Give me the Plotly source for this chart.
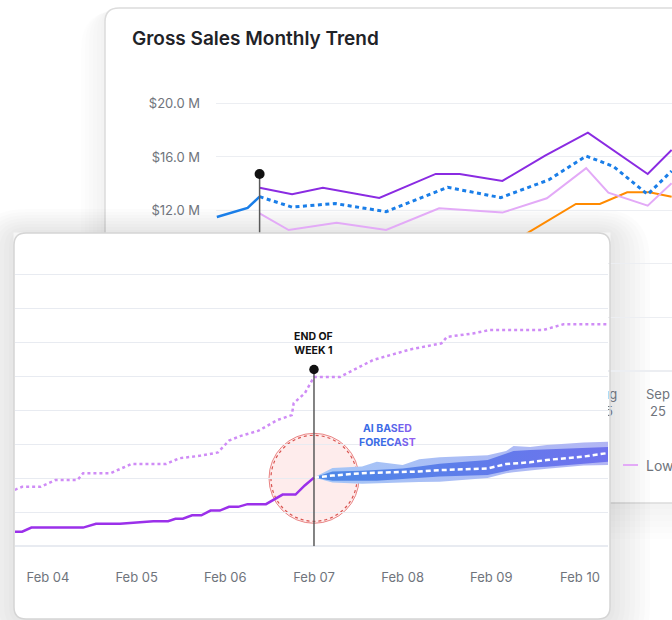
import plotly.graph_objects as go

W, H = 672, 620
FONT = "Inter, Roboto, 'Noto Sans', sans-serif"
GRAY_TXT = "#6f747c"

# ---------------- Background chart: Gross Sales Monthly Trend ($M) ----------------
bg_actual_dates = ["2024-12-17", "2025-01-04", "2025-01-11"]
bg_actual_vals = [11.51, 12.19, 13.03]

bg_upper_dates = ["2025-01-11", "2025-01-30", "2025-02-17", "2025-03-22", "2025-04-24", "2025-05-08",
                  "2025-06-02", "2025-06-27", "2025-07-22", "2025-08-03", "2025-08-26", "2025-09-09"]
bg_upper_vals = [13.70, 13.21, 13.70, 12.93, 14.73, 14.73, 14.21, 16.10, 17.82, 16.77, 14.73, 16.52]

bg_fc_dates = ["2025-01-11", "2025-01-30", "2025-02-24", "2025-03-26", "2025-05-01", "2025-06-01",
               "2025-06-29", "2025-07-21", "2025-08-06", "2025-08-26", "2025-09-09"]
bg_fc_vals = [13.03, 12.25, 12.52, 11.91, 13.73, 12.96, 14.28, 16.07, 15.29, 13.20, 14.95]

bg_lower_dates = ["2025-01-11", "2025-01-28", "2025-02-25", "2025-03-26", "2025-04-26", "2025-06-02",
                  "2025-06-28", "2025-07-21", "2025-08-03", "2025-08-26", "2025-09-09"]
bg_lower_vals = [11.79, 10.54, 11.09, 10.54, 12.16, 11.84, 12.91, 15.16, 13.33, 12.36, 14.03]

bg_target_dates = ["2025-04-26", "2025-06-18", "2025-07-15", "2025-07-29", "2025-08-14", "2025-08-27", "2025-09-09"]
bg_target_vals = [6.06, 10.42, 12.49, 12.49, 13.36, 13.36, 13.03]

bg_marker_date = "2025-01-11"
bg_marker_top = 14.73
bg_yticks = [0, 4, 8, 12, 16, 20]
bg_yticklabels = ["$0.0 M", "$4.0 M", "$8.0 M", "$12.0 M", "$16.0 M", "$20.0 M"]

# ---------------- Foreground chart: daily cumulative with forecast ----------------
actual_time = ["2025-02-03 15:00", "2025-02-03 17:00", "2025-02-03 19:30", "2025-02-04 09:30", "2025-02-04 13:00",
               "2025-02-04 19:30", "2025-02-05 04:30", "2025-02-05 08:30", "2025-02-05 10:30", "2025-02-05 12:30",
               "2025-02-05 15:00", "2025-02-05 17:30", "2025-02-05 20:00", "2025-02-05 22:30", "2025-02-06 01:00",
               "2025-02-06 03:30", "2025-02-06 06:00", "2025-02-06 11:00", "2025-02-06 15:30", "2025-02-06 19:00",
               "2025-02-06 21:30", "2025-02-07 00:00"]
actual_val = [4.3, 4.3, 5.5, 5.5, 6.6, 6.6, 7.4, 7.4, 8.1, 8.1, 9.1, 9.1, 10.5, 10.5, 11.6, 11.6,
              12.4, 12.4, 15.2, 15.2, 17.9, 20.2]

ly_time = ["2025-02-03 15:00", "2025-02-03 17:00", "2025-02-03 22:00", "2025-02-04 02:00", "2025-02-04 08:00",
           "2025-02-04 09:30", "2025-02-04 17:00", "2025-02-04 22:30", "2025-02-05 08:00", "2025-02-05 11:30",
           "2025-02-05 17:00", "2025-02-05 22:00", "2025-02-06 01:00", "2025-02-06 04:00", "2025-02-06 09:00",
           "2025-02-06 14:00", "2025-02-06 18:00", "2025-02-06 18:30", "2025-02-06 21:30", "2025-02-07 00:00",
           "2025-02-07 07:00", "2025-02-07 16:00", "2025-02-08 02:00", "2025-02-08 10:30", "2025-02-08 12:00",
           "2025-02-08 19:00", "2025-02-08 23:30", "2025-02-09 14:00", "2025-02-09 19:30", "2025-02-10 08:00"]
ly_val = [16.6, 17.5, 17.5, 19.5, 19.5, 21.5, 21.5, 24.2, 24.2, 25.9, 26.6, 27.6, 31.1, 32.4, 34.0,
          37.1, 38.6, 42.1, 45.0, 49.8, 49.8, 54.8, 57.9, 59.7, 61.6, 62.6, 63.6, 63.6, 65.3, 65.3]

fc_time = ["2025-02-07 00:00", "2025-02-07 05:00", "2025-02-07 13:00", "2025-02-07 17:00", "2025-02-08 00:00",
           "2025-02-08 04:30", "2025-02-08 10:00", "2025-02-08 23:00", "2025-02-09 04:00", "2025-02-09 06:00",
           "2025-02-09 10:30", "2025-02-09 15:00", "2025-02-10 01:00", "2025-02-10 08:00"]
fc_mid = [20.2, 20.8, 21.5, 21.6, 21.8, 22.0, 22.4, 22.9, 24.2, 24.3, 24.7, 25.4, 26.4, 27.5]
fc_in_hi = [20.2, 22.0, 22.2, 22.4, 22.9, 23.5, 24.3, 25.4, 27.3, 28.0, 28.3, 28.5, 28.8, 29.2]
fc_in_lo = [20.2, 19.3, 19.3, 19.3, 19.8, 20.2, 20.5, 21.0, 22.3, 22.6, 23.2, 23.4, 24.3, 24.9]
fc_out_hi = [20.2, 23.0, 23.5, 24.9, 23.9, 25.6, 26.2, 26.8, 28.0, 29.5, 29.2, 29.8, 30.5, 30.8]
fc_out_lo = [20.2, 18.8, 18.4, 18.6, 18.8, 18.9, 19.0, 20.1, 21.5, 21.8, 22.4, 22.8, 23.8, 23.9]

week_end_time = "2025-02-07 00:00"
week_end_top = 52.0
fg_gridvals = [0, 10, 20, 30, 40, 50, 60, 70, 80]


def px(x):
    return x / W


def py(y):
    return 1 - y / H


def rrect(x0, y0, x1, y1, r):
    return (f"M {px(x0 + r)},{py(y0)} L {px(x1 - r)},{py(y0)} Q {px(x1)},{py(y0)} {px(x1)},{py(y0 + r)} "
            f"L {px(x1)},{py(y1 - r)} Q {px(x1)},{py(y1)} {px(x1 - r)},{py(y1)} "
            f"L {px(x0 + r)},{py(y1)} Q {px(x0)},{py(y1)} {px(x0)},{py(y1 - r)} "
            f"L {px(x0)},{py(y0 + r)} Q {px(x0)},{py(y0)} {px(x0 + r)},{py(y0)} Z")


def grad_text(s, x_left, x_right, g0, g1):
    c0 = (58, 108, 230)
    c1 = (165, 90, 242)
    out = []
    n = len(s)
    for i, ch in enumerate(s):
        xc = x_left + (i + 0.5) / n * (x_right - x_left)
        t = min(1.0, max(0.0, (xc - g0) / (g1 - g0)))
        r, g, b = (round(c0[k] + (c1[k] - c0[k]) * t) for k in range(3))
        out.append(f"<span style='color:rgb({r},{g},{b})'>{ch}</span>")
    return "".join(out)


fig = go.Figure()

# ---- background subplot traces (xy) ----
fig.add_trace(go.Scatter(x=bg_target_dates, y=bg_target_vals, mode="lines",
                         line=dict(color="#ff8a00", width=2), xaxis="x", yaxis="y"))
fig.add_trace(go.Scatter(x=bg_lower_dates, y=bg_lower_vals, mode="lines", name="Lower Bound",
                         line=dict(color="#e3aaf7", width=2), xaxis="x", yaxis="y"))
fig.add_trace(go.Scatter(x=bg_upper_dates, y=bg_upper_vals, mode="lines",
                         line=dict(color="#8a2be2", width=2), xaxis="x", yaxis="y"))
fig.add_trace(go.Scatter(x=bg_fc_dates, y=bg_fc_vals, mode="lines",
                         line=dict(color="#1a7ee8", width=3, dash="4px,3.5px"), xaxis="x", yaxis="y"))
fig.add_trace(go.Scatter(x=bg_actual_dates, y=bg_actual_vals, mode="lines",
                         line=dict(color="#1a7ee8", width=2.5), xaxis="x", yaxis="y"))
fig.add_trace(go.Scatter(x=[bg_marker_date, bg_marker_date], y=[0, bg_marker_top], mode="lines",
                         line=dict(color="#5a5a5a", width=1.5), xaxis="x", yaxis="y"))
fig.add_trace(go.Scatter(x=[bg_marker_date], y=[bg_marker_top], mode="markers",
                         marker=dict(size=10, color="#111111", line=dict(width=0)), xaxis="x", yaxis="y"))

# ---- foreground subplot traces (x2y2) ----
fig.add_trace(go.Scatter(x=fc_time, y=fc_out_lo, mode="lines", line=dict(width=0),
                         xaxis="x2", yaxis="y2"))
fig.add_trace(go.Scatter(x=fc_time, y=fc_out_hi, mode="lines", line=dict(width=0), fill="tonexty",
                         fillcolor="#a9c4f6",
                         fillgradient=dict(type="horizontal", colorscale=[[0, "#a4c6f7"], [1, "#b2b5f4"]]),
                         xaxis="x2", yaxis="y2"))
fig.add_trace(go.Scatter(x=fc_time, y=fc_in_lo, mode="lines", line=dict(width=0),
                         xaxis="x2", yaxis="y2"))
fig.add_trace(go.Scatter(x=fc_time, y=fc_in_hi, mode="lines", line=dict(width=0), fill="tonexty",
                         fillcolor="#5a80e8",
                         fillgradient=dict(type="horizontal", colorscale=[[0, "#4c88e6"], [1, "#7072ee"]]),
                         xaxis="x2", yaxis="y2"))
fig.add_trace(go.Scatter(x=fc_time, y=fc_mid, mode="lines",
                         line=dict(color="white", width=2.5, dash="5px,3px"), xaxis="x2", yaxis="y2"))
fig.add_trace(go.Scatter(x=ly_time, y=ly_val, mode="lines",
                         line=dict(color="#cf8cf6", width=2.5, dash="dot"), xaxis="x2", yaxis="y2"))
fig.add_trace(go.Scatter(x=actual_time, y=actual_val, mode="lines",
                         line=dict(color="#9b30ea", width=2.5), xaxis="x2", yaxis="y2"))
fig.add_trace(go.Scatter(x=[week_end_time, week_end_time], y=[0, week_end_top], mode="lines",
                         line=dict(color="#5a5a5a", width=1.5), xaxis="x2", yaxis="y2"))
fig.add_trace(go.Scatter(x=[week_end_time], y=[week_end_top], mode="markers",
                         marker=dict(size=9.5, color="#111111", line=dict(width=0)), xaxis="x2", yaxis="y2"))

# ---------------- shapes: cards, shadows ----------------
shapes = []
# background card shadow
for k in range(1, 7):
    e = k * 4
    shapes.append(dict(type="path", xref="paper", yref="paper", layer="below",
                       path=rrect(105 - e, 8 - e * 0.4 + k * 2, 760 + e, 503 + e + k * 2, 14 + e),
                       fillcolor="rgba(0,0,0,0.009)", line=dict(width=0)))
# background card
shapes.append(dict(type="path", xref="paper", yref="paper", layer="below",
                   path=rrect(105, 8, 760, 503, 14), fillcolor="white",
                   line=dict(color="#dcdcdc", width=1.5)))
# foreground card shadow
for k in range(1, 9):
    e = k * 5
    shapes.append(dict(type="path", xref="paper", yref="paper", layer="below",
                       path=rrect(14 - e, 233 - e * 0.6, 610 + e, 619 + e, 12 + e),
                       fillcolor="rgba(0,0,0,0.010)", line=dict(width=0)))
# foreground card fill
shapes.append(dict(type="path", xref="paper", yref="paper", layer="below",
                   path=rrect(14, 233, 610, 619, 12), fillcolor="white", line=dict(width=0)))

# highlight circle at end of week 1 (pixel-sized, anchored in data)
shapes.append(dict(type="circle", xref="x2", yref="y2", xsizemode="pixel", ysizemode="pixel",
                   xanchor=week_end_time, yanchor=20, x0=-45, x1=45, y0=-45, y1=45, layer="below",
                   fillcolor="rgba(252,205,205,0.38)", line=dict(color="rgba(225,95,95,0.75)", width=1)))
shapes.append(dict(type="circle", xref="x2", yref="y2", xsizemode="pixel", ysizemode="pixel",
                   xanchor=week_end_time, yanchor=20, x0=-43, x1=43, y0=-43, y1=43, layer="below",
                   fillcolor="rgba(0,0,0,0)", line=dict(color="#d9534f", width=1.2, dash="dot")))

# top corners of the foreground card (plot background is square)
shapes.append(dict(type="path", xref="paper", yref="paper", layer="above",
                   path=f"M {px(13.5)},{py(232.5)} L {px(26)},{py(232.5)} Q {px(14)},{py(233)} {px(13.5)},{py(245)} Z",
                   fillcolor="#f6f6f6", line=dict(width=0)))
shapes.append(dict(type="path", xref="paper", yref="paper", layer="above",
                   path=f"M {px(610.5)},{py(232.5)} L {px(598)},{py(232.5)} Q {px(610)},{py(233)} {px(610.5)},{py(245)} Z",
                   fillcolor="#f5f5f5", line=dict(width=0)))
# foreground card border
shapes.append(dict(type="path", xref="paper", yref="paper", layer="above",
                   path=rrect(14, 233, 610, 619, 12), fillcolor="rgba(0,0,0,0)",
                   line=dict(color="#d5d5d5", width=1.5)))
# legend key for the background chart
shapes.append(dict(type="line", xref="paper", yref="paper", layer="above",
                   x0=px(623), x1=px(638), y0=py(465), y1=py(465),
                   line=dict(color="#e3aaf7", width=2)))

annotations = [
    dict(xref="paper", yref="paper", x=px(644), y=py(465), xanchor="left", yanchor="middle",
         text="Lower Bound", showarrow=False, font=dict(family=FONT, size=14, color=GRAY_TXT)),
    dict(xref="x2", yref="y2", x=week_end_time, y=59.6, xanchor="center", yanchor="middle",
         text="END OF<br>WEEK 1", showarrow=False,
         font=dict(family=FONT, size=10.5, color="#111111", weight=700)),
    dict(xref="x2", yref="y2", x="2025-02-07 20:00", y=32.7, xanchor="center", yanchor="middle",
         text=grad_text("AI BASED", 364, 411, 388, 418) + "<br>" + grad_text("FORECAST", 360, 416, 388, 418),
         showarrow=False, font=dict(family=FONT, size=10.5, weight=700)),
]

fig.update_layout(
    width=W, height=H,
    margin=dict(l=0, r=0, t=0, b=0, autoexpand=False),
    paper_bgcolor="white", plot_bgcolor="white",
    showlegend=False, hovermode=False,
    font=dict(family=FONT, color=GRAY_TXT),
    title=dict(text="Gross Sales Monthly Trend", x=px(132), xanchor="left", xref="paper",
               y=py(38), yanchor="middle", yref="paper",
               font=dict(family=FONT, size=19, color="#1f2328", weight=600)),
    xaxis=dict(domain=[px(216), 1.0], anchor="y", type="date",
               range=["2024-12-16 12:00", "2025-09-09 05:00"],
               showgrid=False, zeroline=False, showline=False, ticks="",
               tickformat="%b<br>%y", dtick="M1", tick0="2025-01-01",
               tickfont=dict(size=13, color=GRAY_TXT), ticklabelstandoff=14),
    yaxis=dict(domain=[py(371), py(70)], anchor="x", range=[0, 22.5],
               tickmode="array", tickvals=bg_yticks, ticktext=bg_yticklabels,
               gridcolor="#eceef2", gridwidth=1, zeroline=True, zerolinecolor="#eceef2",
               showline=False, ticks="", tickfont=dict(size=13, color=GRAY_TXT), ticklabelstandoff=15),
    xaxis2=dict(domain=[px(15), px(608)], anchor="y2", type="date",
                range=["2025-02-03 15:04", "2025-02-10 07:35"],
                showgrid=False, zeroline=False, showline=False, ticks="",
                tickformat="%b %d", dtick=86400000, tick0="2025-02-04",
                tickfont=dict(size=13, color=GRAY_TXT), ticklabelstandoff=22),
    yaxis2=dict(domain=[py(546.3), py(233)], anchor="x2", range=[0, 92.15],
                tickmode="array", tickvals=fg_gridvals, showticklabels=False,
                gridcolor="#e8ebf1", gridwidth=1, zeroline=True, zerolinecolor="#e8ebf1",
                showline=False, ticks=""),
    shapes=shapes,
    annotations=annotations,
)

fig.write_html("out.html", config={"displayModeBar": False, "staticPlot": True},
               post_script="document.body.style.margin='0';document.body.style.padding='0';")
